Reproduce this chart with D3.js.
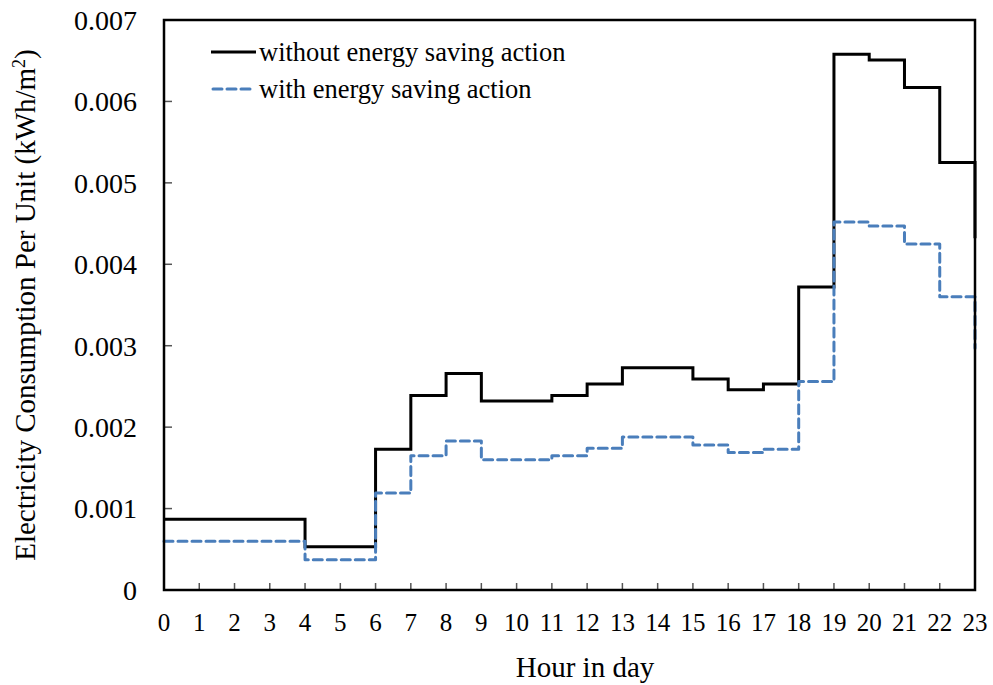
<!DOCTYPE html>
<html>
<head>
<meta charset="utf-8">
<script src="https://cdn.jsdelivr.net/npm/d3@7"></script>
<style>
  html, body { margin: 0; padding: 0; background: #fff; }
  svg text { font-family: "Liberation Serif", "Times New Roman", serif; fill: #000; }
</style>
</head>
<body>
<svg id="chart" width="993" height="685"></svg>
<script>
// ---- data ----
const hours = [0,1,2,3,4,5,6,7,8,9,10,11,12,13,14,15,16,17,18,19,20,21,22,23];
const withoutAction = [0.00087,0.00087,0.00087,0.00087,0.00053,0.00053,0.00173,0.00239,0.00266,0.00232,0.00232,0.00239,
                       0.00253,0.00273,0.00273,0.00259,0.00246,0.00253,0.00372,0.00658,0.00651,0.00617,0.00525,0.00432];
const withAction = [0.00060,0.00060,0.00060,0.00060,0.00037,0.00037,0.00119,0.00165,0.00183,0.00160,0.00160,0.00165,
                    0.00174,0.00188,0.00188,0.00178,0.00169,0.00173,0.00256,0.00452,0.00447,0.00425,0.00360,0.00297];
const yTicks = [0,0.001,0.002,0.003,0.004,0.005,0.006,0.007];
const yTickLabels = ["0","0.001","0.002","0.003","0.004","0.005","0.006","0.007"];
const seriesNames = ["without energy saving action","with energy saving action"];

// ---- layout ----
const svg = d3.select("#chart");
const pL = 164, pR = 975, pT = 20, pB = 590;
const x = d3.scaleLinear().domain([0,23]).range([pL,pR]);
const y = d3.scaleLinear().domain([0,0.007]).range([pB,pT]);

// ticks (inside)
const tickG = svg.append("g");
tickG.selectAll("line.yt").data(yTicks.slice(1,-1)).join("line")
  .attr("x1", pL).attr("x2", pL + 8)
  .attr("y1", d => y(d)).attr("y2", d => y(d))
  .attr("stroke", "#555").attr("stroke-width", 1.5);
tickG.selectAll("line.xt").data(hours.slice(1,-1)).join("line")
  .attr("x1", d => x(d)).attr("x2", d => x(d))
  .attr("y1", pB).attr("y2", pB - 7)
  .attr("stroke", "#555").attr("stroke-width", 1.5);

// lines
const line = d3.line().x((d,i) => x(hours[i])).y(d => y(d)).curve(d3.curveStepAfter);
svg.append("path").datum(withoutAction)
  .attr("d", line).attr("fill", "none")
  .attr("stroke", "#000").attr("stroke-width", 3);
svg.append("path").datum(withAction)
  .attr("d", line).attr("fill", "none")
  .attr("stroke", "#4a7ebb").attr("stroke-width", 3)
  .attr("stroke-dasharray", "9,5").attr("stroke-linecap", "round").attr("stroke-linejoin", "round");

// frame
svg.append("rect").attr("x", pL).attr("y", pT)
  .attr("width", pR - pL).attr("height", pB - pT)
  .attr("fill", "none").attr("stroke", "#000").attr("stroke-width", 2.5);

// tick labels
svg.selectAll("text.ylab").data(yTicks).join("text")
  .attr("class","ylab")
  .attr("x", 137).attr("y", d => y(d)).attr("dy", "0.35em")
  .attr("text-anchor", "end").attr("font-size", 28)
  .text((d,i) => yTickLabels[i]);
svg.selectAll("text.xlab").data(hours).join("text")
  .attr("class","xlab")
  .attr("x", d => x(d)).attr("y", 631)
  .attr("text-anchor", "middle").attr("font-size", 25)
  .text(d => String(d));

// axis titles
svg.append("text").attr("x", 585).attr("y", 677)
  .attr("text-anchor", "middle").attr("font-size", 29).text("Hour in day");
const yt = svg.append("text")
  .attr("transform", "translate(35,305) rotate(-90)")
  .attr("text-anchor", "middle").attr("font-size", 29);
yt.append("tspan").text("Electricity Consumption Per Unit (kWh/m");
yt.append("tspan").attr("font-size", 18).attr("dy", -10).text("2");
yt.append("tspan").attr("dy", 10).text(")");

// legend
const leg = svg.append("g");
leg.append("line").attr("x1", 211).attr("x2", 256).attr("y1", 52).attr("y2", 52)
  .attr("stroke", "#000").attr("stroke-width", 3);
leg.append("line").attr("x1", 213).attr("x2", 250).attr("y1", 89).attr("y2", 89)
  .attr("stroke", "#4a7ebb").attr("stroke-width", 3)
  .attr("stroke-dasharray", "9,5").attr("stroke-linecap", "round");
leg.append("text").attr("x", 259).attr("y", 61).attr("font-size", 26.5).text(seriesNames[0]);
leg.append("text").attr("x", 259).attr("y", 98).attr("font-size", 26.5).text(seriesNames[1]);
</script>
</body>
</html>
